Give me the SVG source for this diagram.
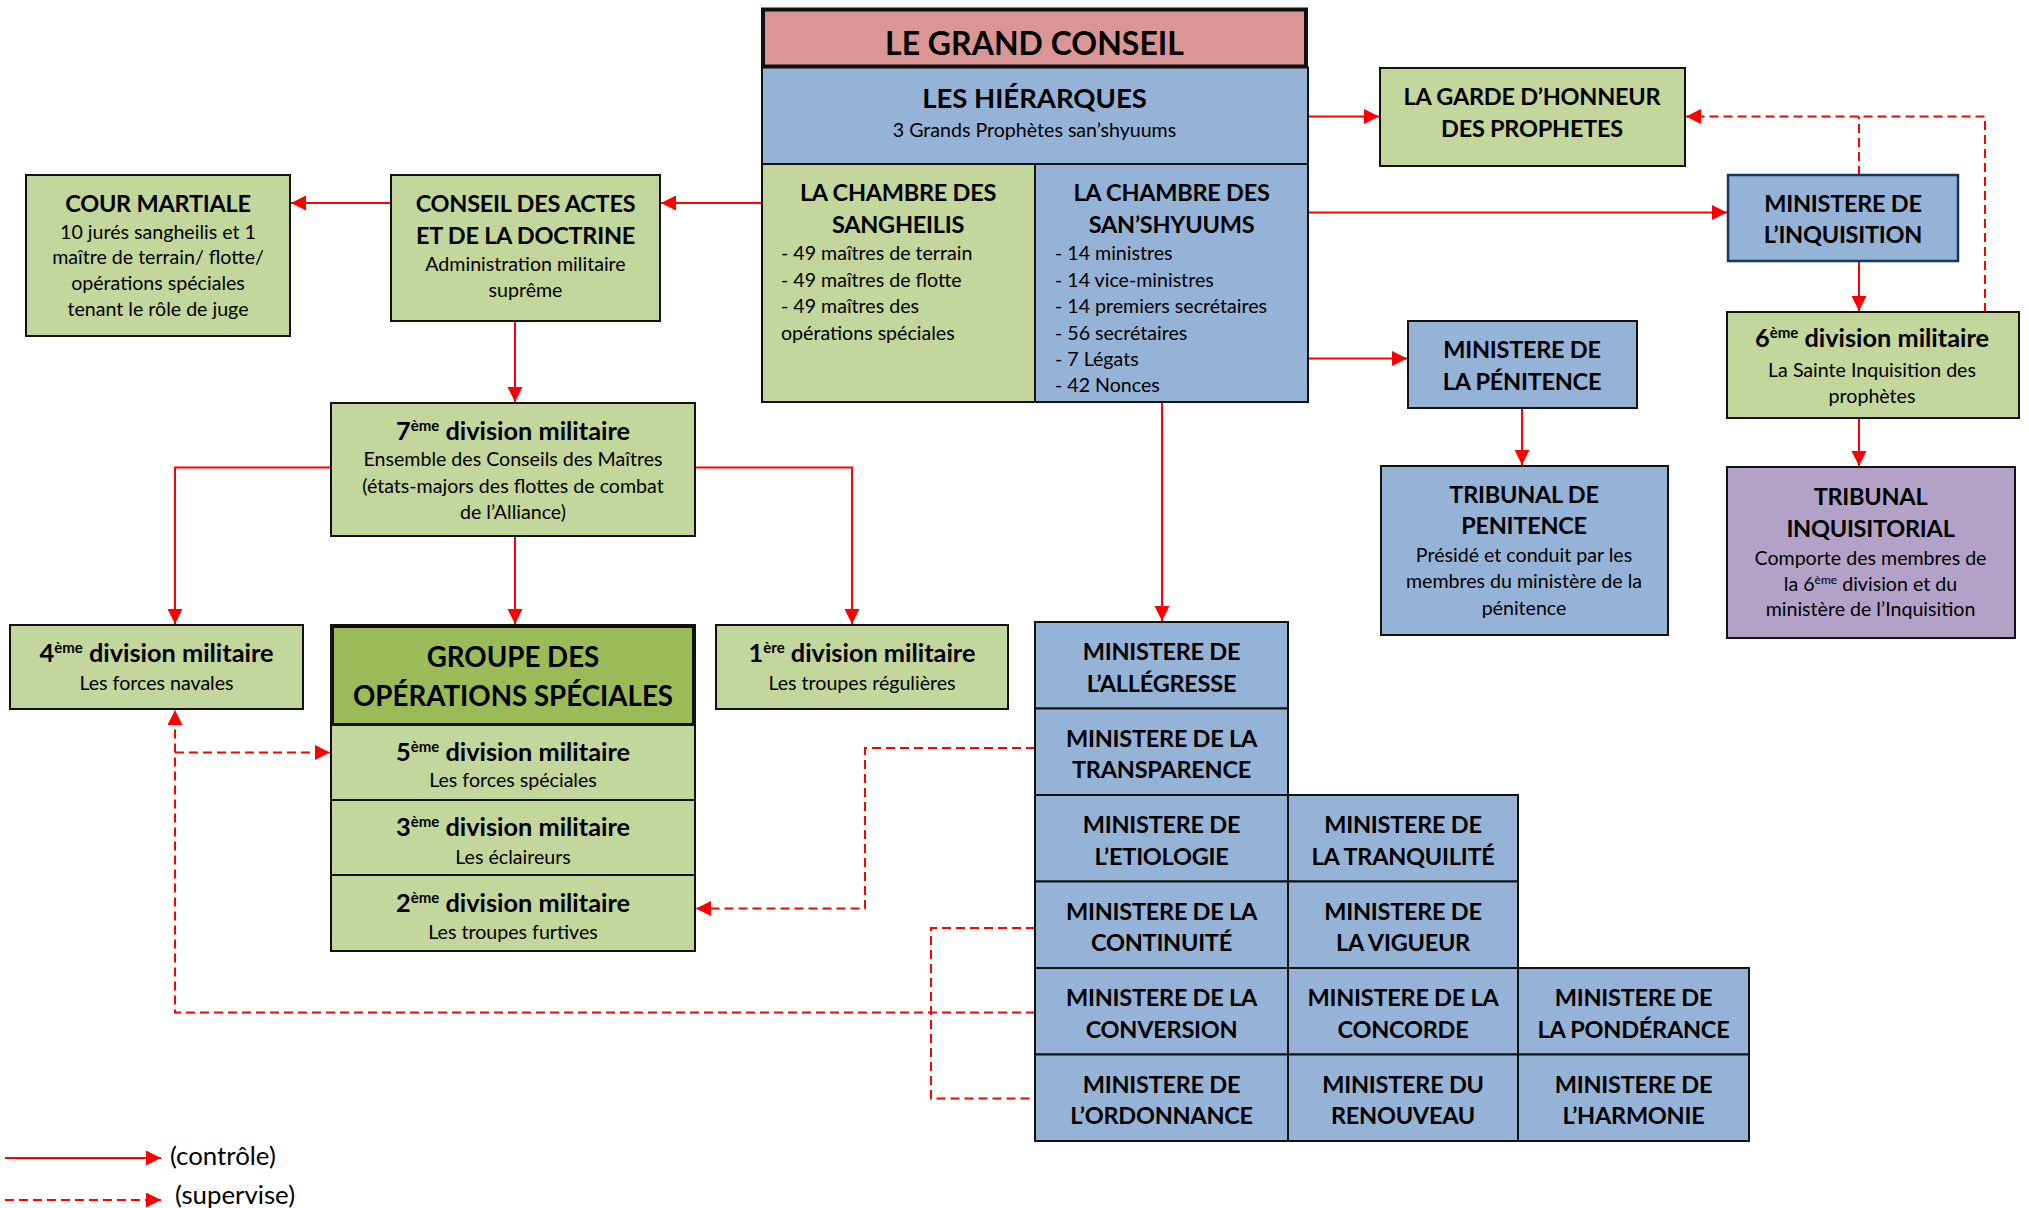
<svg xmlns="http://www.w3.org/2000/svg" width="2029" height="1208" viewBox="0 0 2029 1208">
<defs>
<marker id="ah" markerUnits="userSpaceOnUse" markerWidth="16" markerHeight="16" refX="15" refY="7.5" orient="auto"><path d="M0,0 L15,7.5 L0,15 z" fill="#FF0000"/></marker>
<style>
rect{stroke:#111;stroke-width:2}
.g{fill:#C3D69B}.b{fill:#95B3D7}.r{fill:#D99694;stroke-width:4}.p{fill:#B3A2C7}.gd{fill:#9BBB59;stroke-width:4}
text{font-family:Lato,"Liberation Sans",sans-serif;fill:#000;text-anchor:middle}
.h{font-size:23.5px;font-weight:bold;letter-spacing:-0.25px}
.dv{font-size:25.3px;font-weight:bold}
.t{font-size:19.6px}
.l{text-anchor:start}
.big{font-size:32px;font-weight:bold}
.hi{font-size:27.5px;font-weight:bold}
.gh{font-size:27.7px;font-weight:bold}
.lg{font-size:25.8px;text-anchor:start}
.c{fill:none;stroke:#FF0000;stroke-width:2}
.d{fill:none;stroke:#FF0000;stroke-width:2;stroke-dasharray:9 5}
.a{marker-end:url(#ah)}
</style>
</defs>

<g id="connectors">
<path class="c a" d="M1308,116.5 H1379"/>
<path class="c a" d="M1308,212.5 H1727"/>
<path class="c a" d="M1308,358.5 H1407"/>
<path class="c a" d="M761,203 H661"/>
<path class="c a" d="M391,203 H291"/>
<path class="c a" d="M515,321 V402"/>
<path class="c a" d="M331,467.5 H175 V624"/>
<path class="c a" d="M515,536 V624"/>
<path class="c a" d="M695,467.5 H852 V624"/>
<path class="c a" d="M1162,402 V621"/>
<path class="c a" d="M1859,261 V311"/>
<path class="c a" d="M1859,418 V466"/>
<path class="c a" d="M1522,408 V465"/>
<path class="d a" d="M1985,312 V116.5 H1686"/>
<path class="d" d="M1859,175 V116.5"/>
<path class="d a" d="M1035,748 H865 V908.5 H696"/>
<path class="d" d="M1035,928 H931 V1098.5 H1035"/>
<path class="d a" d="M1035,1012.5 H175 V710"/>
<path class="d a" d="M175,752.5 H330"/>
<path class="c a" d="M5,1158 H161"/>
<path class="d a" d="M5,1200 H161"/>
</g>

<g id="grand-conseil"><rect class="r" x="763" y="9.5" width="543" height="57"/><text class="big" x="1034.5" y="55">LE GRAND CONSEIL</text></g>
<g id="hierarques"><rect class="b" x="762" y="67.5" width="546" height="96.5"/><text class="hi" x="1034.5" y="108">LES HIÉRARQUES</text><text class="t" x="1034.5" y="137">3 Grands Prophètes san’shyuums</text></g>
<g id="chambre-sangheilis"><rect class="g" x="762" y="164" width="273" height="238"/><text class="h" x="898" y="201">LA CHAMBRE DES</text><text class="h" x="898" y="233">SANGHEILIS</text>
<text class="t l" x="781" y="260">- 49 maîtres de terrain</text><text class="t l" x="781" y="286.5">- 49 maîtres de flotte</text><text class="t l" x="781" y="313">- 49 maîtres des</text><text class="t l" x="781" y="339.5">opérations spéciales</text></g>
<g id="chambre-sanshyuums"><rect class="b" x="1035" y="164" width="273" height="238"/><text class="h" x="1171.5" y="201">LA CHAMBRE DES</text><text class="h" x="1171.5" y="233">SAN’SHYUUMS</text>
<text class="t l" x="1055" y="260">- 14 ministres</text><text class="t l" x="1055" y="286.5">- 14 vice-ministres</text><text class="t l" x="1055" y="313">- 14 premiers secrétaires</text><text class="t l" x="1055" y="339.5">- 56 secrétaires</text><text class="t l" x="1055" y="365.5">- 7 Légats</text><text class="t l" x="1055" y="392">- 42 Nonces</text></g>

<g id="garde"><rect class="g" x="1380" y="68" width="305" height="98"/><text class="h" x="1532" y="104.5">LA GARDE D’HONNEUR</text><text class="h" x="1532" y="137">DES PROPHETES</text></g>
<g id="min-inquisition"><rect class="b" x="1728" y="175" width="230" height="86" style="stroke:#17375E;stroke-width:2.5"/><text class="h" x="1843" y="211.5">MINISTERE DE</text><text class="h" x="1843" y="243">L’INQUISITION</text></g>
<g id="div6"><rect class="g" x="1727" y="312" width="292" height="106"/><text class="dv" x="1872" y="347">6<tspan font-size="15" dy="-9">ème</tspan><tspan dy="9"> division militaire</tspan></text><text class="t" x="1872" y="376.5">La Sainte Inquisition des</text><text class="t" x="1872" y="402.5">prophètes</text></g>
<g id="min-penitence"><rect class="b" x="1408" y="321" width="229" height="87"/><text class="h" x="1522" y="357.5">MINISTERE DE</text><text class="h" x="1522" y="390">LA PÉNITENCE</text></g>
<g id="tribunal-penitence"><rect class="b" x="1381" y="466" width="287" height="169"/><text class="h" x="1524" y="503">TRIBUNAL DE</text><text class="h" x="1524" y="534">PENITENCE</text><text class="t" x="1524" y="561.5">Présidé et conduit par les</text><text class="t" x="1524" y="587.5">membres du ministère de la</text><text class="t" x="1524" y="614.5">pénitence</text></g>
<g id="tribunal-inquisitorial"><rect class="p" x="1727" y="467" width="288" height="171"/><text class="h" x="1870.5" y="504.5">TRIBUNAL</text><text class="h" x="1870.5" y="536.5">INQUISITORIAL</text><text class="t" x="1870.5" y="564.5">Comporte des membres de</text><text class="t" x="1870.5" y="590.5">la 6<tspan font-size="12" dy="-7">ème</tspan><tspan dy="7"> division et du</tspan></text><text class="t" x="1870.5" y="615.5">ministère de l’Inquisition</text></g>

<g id="cour-martiale"><rect class="g" x="26" y="175" width="264" height="161"/><text class="h" x="158" y="211.5">COUR MARTIALE</text><text class="t" x="158" y="238.5">10 jurés sangheilis et 1</text><text class="t" x="158" y="264">maître de terrain/ flotte/</text><text class="t" x="158" y="289.5">opérations spéciales</text><text class="t" x="158" y="315.5">tenant le rôle de juge</text></g>
<g id="conseil-actes"><rect class="g" x="391" y="175" width="269" height="146"/><text class="h" x="525.5" y="211.5">CONSEIL DES ACTES</text><text class="h" x="525.5" y="244">ET DE LA DOCTRINE</text><text class="t" x="525.5" y="270.5">Administration militaire</text><text class="t" x="525.5" y="296.5">suprême</text></g>
<g id="div7"><rect class="g" x="331" y="403" width="364" height="133"/><text class="dv" x="513" y="439.5">7<tspan font-size="15" dy="-9">ème</tspan><tspan dy="9"> division militaire</tspan></text><text class="t" x="513" y="465.5">Ensemble des Conseils des Maîtres</text><text class="t" x="513" y="493">(états-majors des flottes de combat</text><text class="t" x="513" y="518.5">de l’Alliance)</text></g>
<g id="div4"><rect class="g" x="10" y="625" width="293" height="84"/><text class="dv" x="156.5" y="662">4<tspan font-size="15" dy="-9">ème</tspan><tspan dy="9"> division militaire</tspan></text><text class="t" x="156.5" y="689.5">Les forces navales</text></g>
<g id="groupe-ops"><rect class="gd" x="332" y="626" width="362" height="99"/><text class="gh" x="513" y="667">GROUPE DES</text><text class="gh" x="513" y="706">OPÉRATIONS SPÉCIALES</text></g>
<g id="div5"><rect class="g" x="331" y="725" width="364" height="75"/><text class="dv" x="513" y="760.5">5<tspan font-size="15" dy="-9">ème</tspan><tspan dy="9"> division militaire</tspan></text><text class="t" x="513" y="786.5">Les forces spéciales</text></g>
<g id="div3"><rect class="g" x="331" y="800" width="364" height="75"/><text class="dv" x="513" y="835.5">3<tspan font-size="15" dy="-9">ème</tspan><tspan dy="9"> division militaire</tspan></text><text class="t" x="513" y="863.5">Les éclaireurs</text></g>
<g id="div2"><rect class="g" x="331" y="875" width="364" height="76"/><text class="dv" x="513" y="911.5">2<tspan font-size="15" dy="-9">ème</tspan><tspan dy="9"> division militaire</tspan></text><text class="t" x="513" y="938.5">Les troupes furtives</text></g>
<g id="div1"><rect class="g" x="716" y="625" width="292" height="84"/><text class="dv" x="862" y="662">1<tspan font-size="15" dy="-9">ère</tspan><tspan dy="9"> division militaire</tspan></text><text class="t" x="862" y="689.5">Les troupes régulières</text></g>

<g id="min-allegresse"><rect class="b" x="1035" y="622" width="253" height="86.5"/><text class="h" x="1161.5" y="660">MINISTERE DE</text><text class="h" x="1161.5" y="691.5">L’ALLÉGRESSE</text></g>
<g id="min-transparence"><rect class="b" x="1035" y="708.5" width="253" height="86.5"/><text class="h" x="1161.5" y="746.5">MINISTERE DE LA</text><text class="h" x="1161.5" y="778">TRANSPARENCE</text></g>
<g id="min-etiologie"><rect class="b" x="1035" y="795" width="253" height="86.5"/><text class="h" x="1161.5" y="833">MINISTERE DE</text><text class="h" x="1161.5" y="864.5">L’ETIOLOGIE</text></g>
<g id="min-continuite"><rect class="b" x="1035" y="881.5" width="253" height="86.5"/><text class="h" x="1161.5" y="919.5">MINISTERE DE LA</text><text class="h" x="1161.5" y="951">CONTINUITÉ</text></g>
<g id="min-conversion"><rect class="b" x="1035" y="968" width="253" height="86.5"/><text class="h" x="1161.5" y="1006">MINISTERE DE LA</text><text class="h" x="1161.5" y="1037.5">CONVERSION</text></g>
<g id="min-ordonnance"><rect class="b" x="1035" y="1054.5" width="253" height="86.5"/><text class="h" x="1161.5" y="1092.5">MINISTERE DE</text><text class="h" x="1161.5" y="1124">L’ORDONNANCE</text></g>
<g id="min-tranquilite"><rect class="b" x="1288" y="795" width="230" height="86.5"/><text class="h" x="1403" y="833">MINISTERE DE</text><text class="h" x="1403" y="864.5">LA TRANQUILITÉ</text></g>
<g id="min-vigueur"><rect class="b" x="1288" y="881.5" width="230" height="86.5"/><text class="h" x="1403" y="919.5">MINISTERE DE</text><text class="h" x="1403" y="951">LA VIGUEUR</text></g>
<g id="min-concorde"><rect class="b" x="1288" y="968" width="230" height="86.5"/><text class="h" x="1403" y="1006">MINISTERE DE LA</text><text class="h" x="1403" y="1037.5">CONCORDE</text></g>
<g id="min-renouveau"><rect class="b" x="1288" y="1054.5" width="230" height="86.5"/><text class="h" x="1403" y="1092.5">MINISTERE DU</text><text class="h" x="1403" y="1124">RENOUVEAU</text></g>
<g id="min-ponderance"><rect class="b" x="1518" y="968" width="231" height="86.5"/><text class="h" x="1633.5" y="1006">MINISTERE DE</text><text class="h" x="1633.5" y="1037.5">LA PONDÉRANCE</text></g>
<g id="min-harmonie"><rect class="b" x="1518" y="1054.5" width="231" height="86.5"/><text class="h" x="1633.5" y="1092.5">MINISTERE DE</text><text class="h" x="1633.5" y="1124">L’HARMONIE</text></g>

<g id="legend"><text class="lg" x="170" y="1165">(contrôle)</text><text class="lg" x="175" y="1204">(supervise)</text></g>
</svg>
